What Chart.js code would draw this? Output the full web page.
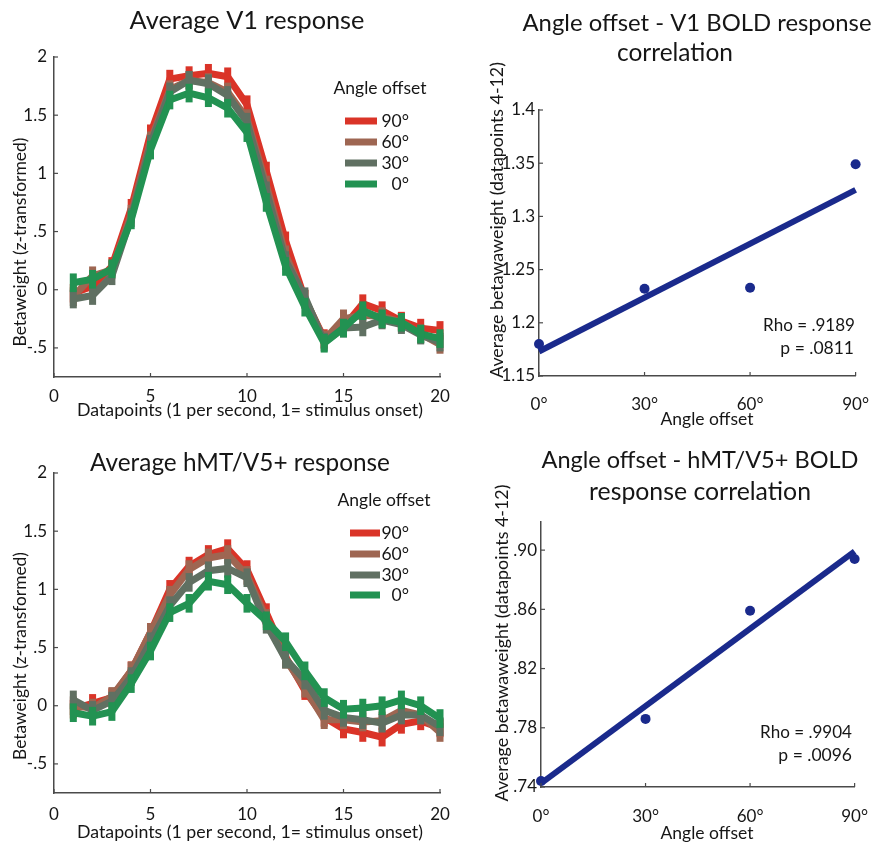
<!DOCTYPE html>
<html><head><meta charset="utf-8">
<script src="https://cdn.jsdelivr.net/npm/chart.js@4.4.0/dist/chart.umd.min.js"></script>
<style>
html,body{margin:0;padding:0;background:#fff;}
#wrap{position:relative;width:887px;height:842px;overflow:hidden;background:#fff;}
#wrap canvas{position:absolute;left:0;top:0;}
</style></head><body>
<div id="wrap">
<canvas id="c1" width="887" height="842"></canvas>
<canvas id="c2" width="887" height="842"></canvas>
<canvas id="c3" width="887" height="842"></canvas>
<canvas id="c4" width="887" height="842"></canvas>
</div>
<script>
// ---------------- DATA ----------------
const timepoints = [1,2,3,4,5,6,7,8,9,10,11,12,13,14,15,16,17,18,19,20];
const angleLabels = ['90°','60°','30°','0°'];

const v1_90 = [-0.03,0.03,0.20,0.70,1.34,1.81,1.84,1.86,1.83,1.59,1.02,0.42,-0.08,-0.42,-0.32,-0.12,-0.18,-0.27,-0.33,-0.35];
const v1_60 = [-0.06,0.12,0.17,0.65,1.28,1.72,1.80,1.78,1.70,1.47,0.90,0.30,-0.08,-0.43,-0.25,-0.22,-0.23,-0.28,-0.38,-0.47];
const v1_30 = [-0.08,-0.05,0.12,0.62,1.25,1.70,1.80,1.77,1.67,1.44,0.85,0.25,-0.06,-0.45,-0.33,-0.32,-0.26,-0.30,-0.39,-0.45];
const v1_0  = [0.06,0.09,0.18,0.60,1.20,1.63,1.69,1.65,1.56,1.35,0.75,0.20,-0.15,-0.46,-0.33,-0.18,-0.25,-0.28,-0.38,-0.42];

const mt_90 = [-0.03,0.02,0.07,0.30,0.63,1.00,1.20,1.30,1.35,1.17,0.80,0.42,0.13,-0.10,-0.20,-0.23,-0.27,-0.16,-0.13,-0.19];
const mt_60 = [0.00,-0.02,0.08,0.30,0.63,0.95,1.17,1.27,1.30,1.12,0.75,0.40,0.15,-0.12,-0.12,-0.14,-0.13,-0.04,-0.08,-0.23];
const mt_30 = [0.05,-0.04,0.04,0.25,0.55,0.86,1.06,1.16,1.18,1.10,0.70,0.40,0.22,-0.04,-0.10,-0.12,-0.15,-0.08,-0.08,-0.18];
const mt_0  = [-0.06,-0.09,-0.05,0.19,0.47,0.80,0.88,1.07,1.04,0.88,0.73,0.55,0.30,0.07,-0.03,-0.02,0.00,0.05,0.00,-0.11];

const errorHalf = 0.08; // half height of the error bars (z units)

const angleValues = [0,30,60,90];
const v1Corr = [1.180,1.232,1.233,1.349];
const v1FitX = [0,90];
const v1FitY = [1.173,1.325];
const mtCorr = [0.744,0.786,0.859,0.894];
const mtFitX = [0,90];
const mtFitY = [0.7424,0.8992];

const timeTicks = [0,5,10,15,20];
const betaTicks = [-0.5,0,0.5,1,1.5,2];
const betaTickLabels = ['-.5','0','.5','1','1.5','2'];
const angleTicks = [0,30,60,90];
const angleTickLabels = ['0°','30°','60°','90°'];
const v1CorrTicks = [1.15,1.2,1.25,1.3,1.35,1.4];
const v1CorrTickLabels = ['1.15','1.2','1.25','1.3','1.35','1.4'];
const mtCorrTicks = [0.74,0.78,0.82,0.86,0.90];
const mtCorrTickLabels = ['.74','.78','.82','.86','.90'];

// ---------------- STYLE ----------------
const FONT = 'Lato, "Open Sans", sans-serif';
const TXT = '#161616';
const AXIS = '#4a4a4a';
const seriesColors = ['rgb(218,52,40)','rgb(158,102,82)','rgb(96,112,98)','rgb(34,146,82)'];
const NAVY = 'rgb(26,42,140)';

Chart.defaults.font.family = FONT;
Chart.defaults.color = TXT;

function textPlugin(items){
  return { id:'texts', afterDraw(chart){
    const ctx = chart.ctx;
    items.forEach(it=>{
      ctx.save();
      let size = it.size || 17;
      ctx.font = size+'px '+FONT;
      if (it.w){ const m = ctx.measureText(it.t).width; size = size*it.w/m; ctx.font = size.toFixed(2)+'px '+FONT; }
      ctx.fillStyle = TXT;
      ctx.textAlign = it.align || 'center';
      ctx.textBaseline = 'middle';
      ctx.translate(it.x, it.y);
      if (it.rot) ctx.rotate(it.rot);
      ctx.fillText(it.t, 0, 0);
      ctx.restore();
    });
  }};
}
function legendPlugin(cfg){
  return { id:'lgd', afterDraw(chart){
    const ctx = chart.ctx;
    ctx.save();
    ctx.font = '17.5px '+FONT;
    ctx.fillStyle = TXT; ctx.textBaseline='middle';
    ctx.textAlign='center';
    ctx.fillText('Angle offset', cfg.tx, cfg.ty);
    ctx.textAlign='right';
    cfg.ys.forEach((y,i)=>{
      ctx.strokeStyle = seriesColors[i]; ctx.lineWidth = 7; ctx.lineCap='butt';
      ctx.beginPath(); ctx.moveTo(cfg.x0,y); ctx.lineTo(cfg.x1,y); ctx.stroke();
      ctx.fillText(angleLabels[i], cfg.lx, y);
    });
    ctx.restore();
  }};
}
const tickPlugin = { id:'inticks', afterDraw(chart){
  const ctx = chart.ctx, a = chart.chartArea;
  const xs = chart.scales.x, ys = chart.scales.y;
  ctx.save(); ctx.strokeStyle = AXIS; ctx.lineWidth = 1.2;
  xs.ticks.forEach(t=>{ const p = xs.getPixelForValue(t.value); ctx.beginPath(); ctx.moveTo(p,a.bottom); ctx.lineTo(p,a.bottom-4); ctx.stroke(); });
  ys.ticks.forEach(t=>{ const p = ys.getPixelForValue(t.value); ctx.beginPath(); ctx.moveTo(a.left,p); ctx.lineTo(a.left+4,p); ctx.stroke(); });
  ctx.restore();
}};
const errPlugin = { id:'errbars', afterDatasetDraw(chart,args){
  const ds = chart.data.datasets[args.index];
  if (!ds.errHalf) return;
  const ctx = chart.ctx, ys = chart.scales.y;
  ctx.save(); ctx.fillStyle = ds.borderColor;
  args.meta.data.forEach((el,i)=>{
    const v = ds.data[i].y;
    const top = ys.getPixelForValue(v+ds.errHalf), bot = ys.getPixelForValue(v-ds.errHalf);
    ctx.fillRect(el.x-3.5, top, 7, bot-top);
  });
  ctx.restore();
}};

function setTicks(vals){ return function(s){ s.ticks = vals.map(v=>({value:v})); }; }
function labelFrom(vals, labels){ return function(v){ const i = vals.findIndex(t=>Math.abs(t-v)<1e-9); return i>=0?labels[i]:''; }; }

function axes(area, xcfg, ycfg){
  return {
    layout:{padding:{left:area.L-60, top:area.T, right:887-area.R, bottom:842-area.B-60}},
    scales:{
      x:{type:'linear', min:xcfg.min, max:xcfg.max, afterFit(s){s.height=60;},
         afterBuildTicks:setTicks(xcfg.ticks), grid:{display:false, drawTicks:false},
         border:{display:true,color:AXIS,width:1.5},
         ticks:{padding:xcfg.pad, font:{size:17,family:FONT}, color:TXT, maxRotation:0, autoSkip:false, callback:labelFrom(xcfg.ticks,xcfg.labels)}},
      y:{type:'linear', min:ycfg.min, max:ycfg.max, afterFit(s){s.width=60;},
         afterBuildTicks:setTicks(ycfg.ticks), grid:{display:false, drawTicks:false},
         border:{display:true,color:AXIS,width:1.5},
         ticks:{padding:ycfg.pad, font:{size:17,family:FONT}, color:TXT, autoSkip:false, callback:labelFrom(ycfg.ticks,ycfg.labels)}}
    }
  };
}

function lineChart(id, series, area, texts, lg){
  const ds = series.map((arr,i)=>({
    data: timepoints.map((x,j)=>({x:x,y:arr[j]})),
    borderColor: seriesColors[i], backgroundColor: seriesColors[i],
    borderWidth:7, pointRadius:0, tension:0, fill:false, order:3-i,
    errHalf: errorHalf, clip:false, borderJoinStyle:'miter'
  }));
  const o = axes(area,{min:0,max:20,ticks:timeTicks,labels:timeTicks.map(String),pad:area.xpad},
                      {min:-0.75,max:2,ticks:betaTicks,labels:betaTickLabels,pad:7});
  new Chart(document.getElementById(id),{
    type:'line', data:{datasets:ds},
    options:Object.assign(o,{responsive:false, animation:false, devicePixelRatio:1,
      plugins:{legend:{display:false}, tooltip:{enabled:false}, title:{display:false}}}),
    plugins:[errPlugin, tickPlugin, textPlugin(texts), legendPlugin(lg)]
  });
}

function corrChart(id, yvals, fitX, fitY, area, ycfg, texts){
  const o = axes(area,{min:0,max:90,ticks:angleTicks,labels:angleTickLabels,pad:area.xpad}, ycfg);
  new Chart(document.getElementById(id),{
    type:'scatter',
    data:{datasets:[
      {type:'line', data:fitX.map((x,i)=>({x:x,y:fitY[i]})), borderColor:NAVY, borderWidth:6, pointRadius:0, clip:false, order:1},
      {type:'scatter', data:angleValues.map((x,i)=>({x:x,y:yvals[i]})), backgroundColor:NAVY, borderColor:NAVY, pointRadius:5, borderWidth:0, clip:false, order:0}
    ]},
    options:Object.assign(o,{responsive:false, animation:false, devicePixelRatio:1,
      plugins:{legend:{display:false}, tooltip:{enabled:false}, title:{display:false}}}),
    plugins:[tickPlugin, textPlugin(texts)]
  });
}

const R90 = -Math.PI/2;
lineChart('c1',[v1_90,v1_60,v1_30,v1_0],{L:54,T:57,R:440,B:377,xpad:9},[
  {t:'Average V1 response', x:247, y:21, w:235},
  {t:'Betaweight (z-transformed)', x:20, y:242, w:209, rot:R90},
  {t:'Datapoints (1 per second, 1= stimulus onset)', x:250, y:410, w:346}
],{tx:380, ty:88, ys:[121,142,163,184], x0:345, x1:377, lx:409});

lineChart('c3',[mt_90,mt_60,mt_30,mt_0],{L:54,T:473,R:440,B:793,xpad:11},[
  {t:'Average hMT/V5+ response', x:240, y:463, w:300},
  {t:'Betaweight (z-transformed)', x:20, y:656, w:208, rot:R90},
  {t:'Datapoints (1 per second, 1= stimulus onset)', x:250, y:832, w:346}
],{tx:384, ty:500, ys:[533,554,575,595], x0:350, x1:380, lx:409});

corrChart('c2', v1Corr, v1FitX, v1FitY, {L:539,T:110,R:877,B:376,xpad:18},
  {min:1.15,max:1.4,ticks:v1CorrTicks,labels:v1CorrTickLabels,pad:4},[
  {t:'Angle offset - V1 BOLD response', x:697, y:23, w:349},
  {t:'correlation', x:675, y:53, w:116},
  {t:'Average betawaweight (datapoints 4-12)', x:497, y:220, w:316, rot:R90},
  {t:'Angle offset', x:707, y:419, w:93},
  {t:'Rho = .9189', x:855, y:325, w:92, align:'right'},
  {t:'p = .0811', x:854, y:348, size:17.5, align:'right'}
]);

corrChart('c4', mtCorr, mtFitX, mtFitY, {L:541,T:522,R:878,B:787,xpad:19},
  {min:0.74,max:0.919,ticks:mtCorrTicks,labels:mtCorrTickLabels,pad:4},[
  {t:'Angle offset - hMT/V5+ BOLD', x:700, y:460, w:317},
  {t:'response correlation', x:700, y:492, w:222},
  {t:'Average betawaweight (datapoints 4-12)', x:502, y:643, w:317, rot:R90},
  {t:'Angle offset', x:707, y:833, w:93},
  {t:'Rho = .9904', x:852, y:732, w:92, align:'right'},
  {t:'p = .0096', x:852, y:755, size:17.5, align:'right'}
]);
</script>
</body></html>
